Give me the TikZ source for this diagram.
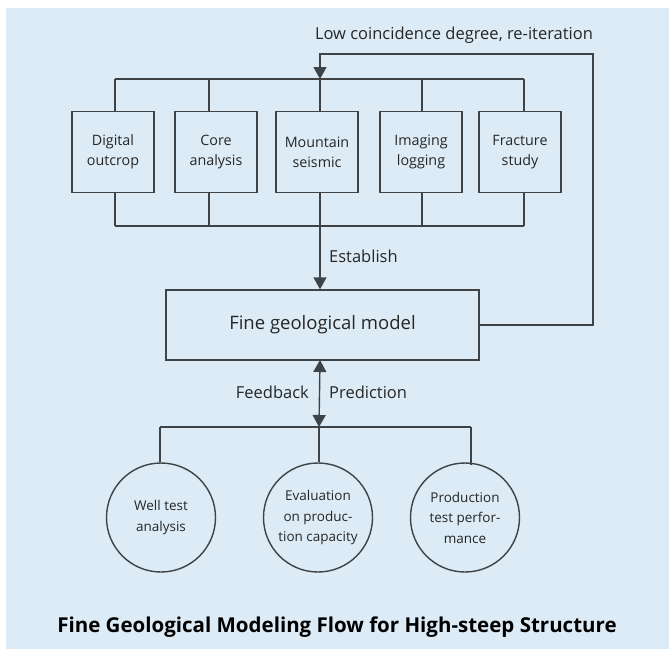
\documentclass[tikz,border=0pt]{standalone}
\usepackage{fontspec}
\setmainfont{Open Sans}
\usetikzlibrary{arrows.meta}
\definecolor{bg}{HTML}{DCEBF6}
\definecolor{ln}{HTML}{404345}
\definecolor{tx}{HTML}{262626}
\begin{document}
\begin{tikzpicture}[x=1pt,y=-1pt,
  every node/.style={text=tx, inner sep=0pt},
  conn/.style={draw=ln, line width=1.4pt},
  arr/.style={conn, -{Triangle[width=13pt,length=12pt]}},
  darr/.style={conn, {Triangle[width=13pt,length=12pt]}-{Triangle[width=13pt,length=12pt]}},
  srcbox/.style={draw=ln, line width=1.4pt, minimum width=82pt, minimum height=81pt, align=center, font=\fontsize{14.3}{20}\selectfont},
  modelbox/.style={draw=ln, line width=1.4pt, minimum width=313pt, minimum height=70pt, font=\fontsize{18.5}{20}\selectfont},
  evalcirc/.style={draw=ln, line width=1.4pt, circle, minimum size=109pt, align=center, font=\fontsize{13.5}{20.5}\selectfont},
  lbl/.style={font=\fontsize{16.5}{18}\selectfont}
]
\useasboundingbox (0,0) rectangle (669,649);
\fill[bg] (6,8) rectangle (669,649);

% source boxes
\node[srcbox] (b1) at (113,152) {Digital\\outcrop};
\node[srcbox] (b2) at (216,152) {Core\\analysis};
\node[srcbox] (b3) at (317,152) {Mountain\\seismic};
\node[srcbox] (b4) at (421,152) {Imaging\\logging};
\node[srcbox] (b5) at (520,152) {Fracture\\study};

% model
\node[modelbox] (model) at (322.5,325) {Fine geological model};

% circles
\node[evalcirc] (c1) at (161,517.5) {Well test\\analysis};
\node[evalcirc] (c2) at (318,517.5) {Evaluation\\on produc-\\tion capacity};
\node[evalcirc] (c3) at (465,517.5) {Production\\test perfor-\\mance};

% bus coordinates
\coordinate (t1) at (115,79);
\coordinate (t2) at (209,79);
\coordinate (t3) at (320,79);
\coordinate (t4) at (422,79);
\coordinate (t5) at (524,79);
\coordinate (u1) at (115,226);
\coordinate (u2) at (209,226);
\coordinate (u3) at (320,226);
\coordinate (u4) at (422,226);
\coordinate (u5) at (524,226);
\coordinate (lp) at (593,54);
\coordinate (v1) at (160,427);
\coordinate (v2) at (319,427);
\coordinate (v3) at (471,427);
\coordinate (mb) at (320,360);

% top bus
\draw[conn] (t1) -- (t5);
\foreach \i in {1,...,5} {\draw[conn] (t\i) -- (t\i |- b\i.north);}
% bottom bus
\draw[conn] (u1) -- (u5);
\foreach \i in {1,...,5} {\draw[conn] (u\i) -- (u\i |- b\i.south);}
% establish
\draw[arr] (u3) -- (u3 |- model.north);
% loop
\draw[arr] (model.east) -| (lp) -| (t3);
% feedback / prediction
\draw[darr] (mb) -- (v2);
\draw[conn] (v1) -- (v3);
\draw[conn] (v1) -- (v1 |- c1.north);
\draw[conn] (v2) -- (v2 |- c2.north);
\draw[conn] (v3) -- (471,464.5);

% labels
\node[lbl] (lbltop) at (454,35) {Low coincidence degree, re-iteration};
\node[lbl, anchor=west] (lblest) at (329,256) {Establish};
\node[lbl, anchor=east] (lblfb) at (309,392) {Feedback};
\node[lbl, anchor=west] (lblpr) at (329,392) {Prediction};

% title
\node[font=\fontsize{20.5}{24}\bfseries, text=black] (title) at (337,627) {Fine Geological Modeling Flow for High-steep Structure};
\end{tikzpicture}
\end{document}
